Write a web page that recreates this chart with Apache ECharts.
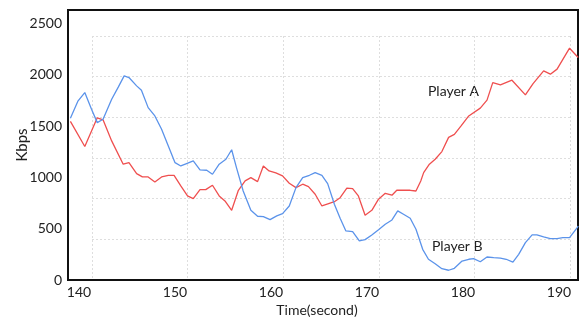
<!DOCTYPE html>
<html>
<head>
<meta charset="utf-8">
<script src="https://cdn.jsdelivr.net/npm/echarts@6/dist/echarts.min.js"></script>
<style>
  html, body { margin: 0; padding: 0; background: #fff; }
  #chart { width: 581px; height: 320px; }
</style>
</head>
<body>
<div id="chart"></div>
<script>
// Player A bitrate over time
const timeA = [139.1, 140.6, 141.9, 142.5, 143.4, 144.6, 145.2, 146.0, 146.6, 147.2, 147.9, 148.6, 149.3, 149.9,
  150.6, 151.3, 151.9, 152.6, 153.2, 153.9, 154.6, 155.2, 155.9, 156.6, 157.3, 157.9, 158.6, 159.2, 159.8,
  160.5, 161.2, 161.9, 162.6, 163.3, 163.9, 164.6, 165.3, 166.0, 166.6, 167.2, 167.9, 168.5, 169.1, 169.8,
  170.5, 171.2, 171.9, 172.6, 173.1, 174.5, 175.1, 175.6, 175.9, 176.5, 177.1, 177.8, 178.5, 179.1, 179.8,
  180.6, 181.8, 182.5, 183.1, 183.9, 185.1, 186.5, 187.3, 188.4, 189.1, 189.8, 191.1, 192.0];
const kbpsA = [1545, 1300, 1580, 1560, 1355, 1128, 1143, 1036, 1004, 1004, 955, 1004, 1020, 1020,
  916, 819, 792, 880, 880, 923, 819, 770, 679, 874, 965, 997, 958, 1111, 1062,
  1043, 1014, 943, 900, 933, 909, 835, 721, 744, 763, 802, 894, 890, 819, 631,
  679, 787, 845, 826, 874, 874, 867, 965, 1046, 1128, 1176, 1251, 1389, 1418, 1501,
  1598, 1674, 1752, 1923, 1901, 1946, 1803, 1913, 2037, 2005, 2054, 2258, 2167];

// Player B bitrate over time
const timeB = [139.1, 139.9, 140.6, 141.3, 141.9, 142.5, 143.4, 144.1, 144.7, 145.2, 146.0, 146.5, 147.2, 147.9,
  148.6, 149.3, 150.0, 150.6, 151.2, 151.9, 152.6, 153.3, 153.9, 154.6, 155.3, 155.9, 156.4, 157.1, 157.9,
  158.6, 159.2, 159.9, 160.6, 161.2, 161.9, 162.6, 163.3, 164.0, 164.6, 165.3, 165.9, 166.6, 167.2, 167.8,
  168.5, 169.2, 169.8, 170.5, 171.2, 171.9, 172.6, 173.2, 173.8, 174.5, 175.1, 175.8, 176.4, 177.1, 177.8,
  178.5, 179.1, 179.9, 180.6, 181.1, 181.8, 182.5, 183.2, 183.9, 184.5, 185.2, 185.8, 186.5, 187.2, 187.7,
  188.4, 189.1, 189.8, 190.4, 191.1, 191.9, 192.0];
const kbpsB = [1576, 1745, 1826, 1664, 1533, 1566, 1761, 1881, 1988, 1972, 1891, 1849, 1679, 1598,
  1469, 1306, 1143, 1111, 1134, 1160, 1072, 1069, 1030, 1128, 1176, 1269, 1095, 867, 679,
  621, 617, 588, 624, 646, 721, 900, 997, 1020, 1046, 1020, 939, 738, 601, 478,
  471, 380, 393, 439, 490, 543, 585, 673, 640, 601, 494, 299, 202, 159, 110,
  95, 114, 185, 202, 208, 178, 224, 217, 214, 202, 175, 250, 364, 439, 439,
  419, 403, 403, 412, 412, 510, 526];

const timeTicks = [140, 150, 160, 170, 180, 190];
const seriesNames = ['Player A', 'Player B'];

const pairs = (t, v) => t.map((x, i) => [x, v[i]]);
const font = 'Lato, "Open Sans", sans-serif';

const chart = echarts.init(document.getElementById('chart'), null, { renderer: 'canvas' });
chart.setOption({
  backgroundColor: '#ffffff',
  animation: false,
  grid: [
    { left: 68, right: 3, top: 10, bottom: 40, outerBoundsMode: 'none',
      show: true, borderColor: '#111', borderWidth: 2, backgroundColor: 'transparent' },
    // dotted background lattice
    { left: 92, right: 11, top: 36, bottom: 40, outerBoundsMode: 'none', show: false }
  ],
  xAxis: [
    {
      gridIndex: 0, type: 'value', min: 138.85, max: 191.98,
      axisLine: { show: true, lineStyle: { color: '#111', width: 2 } },
      axisTick: { show: false },
      splitLine: { show: false },
      axisLabel: { customValues: timeTicks, color: '#222', fontSize: 14, fontFamily: font, margin: 5 },
      name: 'Time(second)', nameLocation: 'middle', nameGap: 23, nameMoveOverlap: false,
      nameTextStyle: { color: '#222', fontSize: 14, fontFamily: font, padding: [0, 12, 0, 0] }
    },
    {
      gridIndex: 1, type: 'value', min: 0, max: 5, interval: 1,
      axisLine: { show: false }, axisTick: { show: false }, axisLabel: { show: false },
      splitLine: { show: true, lineStyle: { color: '#dedede', type: [2, 2], width: 1 } }
    }
  ],
  yAxis: [
    {
      gridIndex: 0, type: 'value', min: 0, max: 2630, interval: 500,
      axisLine: { show: true, lineStyle: { color: '#111', width: 2 } },
      axisTick: { show: false },
      splitLine: { show: false },
      axisLabel: { color: '#222', fontSize: 14, fontFamily: font, margin: 6, showMaxLabel: false,
        formatter: v => String(v) },
      name: 'Kbps', nameLocation: 'middle', nameGap: 38, nameRotate: 90, nameMoveOverlap: false,
      nameTextStyle: { color: '#222', fontSize: 15, fontFamily: font }
    },
    {
      gridIndex: 1, type: 'value', min: 0, max: 6, interval: 1,
      axisLine: { show: false }, axisTick: { show: false }, axisLabel: { show: false },
      splitLine: { show: true, lineStyle: { color: '#dedede', type: [2, 2], width: 1 } }
    }
  ],
  series: [
    {
      name: seriesNames[0], type: 'line', xAxisIndex: 0, yAxisIndex: 0,
      data: pairs(timeA, kbpsA), showSymbol: false, smooth: false,
      lineStyle: { color: '#ef4f4f', width: 1.3 }, z: 3
    },
    {
      name: seriesNames[1], type: 'line', xAxisIndex: 0, yAxisIndex: 0,
      data: pairs(timeB, kbpsB), showSymbol: false, smooth: false,
      lineStyle: { color: '#5b93ea', width: 1.3 }, z: 3
    }
  ],
  graphic: [
    { type: 'text', left: 428, top: 84, style: { text: seriesNames[0], fill: '#222', font: '14px ' + font } },
    { type: 'text', left: 432, top: 239, style: { text: seriesNames[1], fill: '#222', font: '14px ' + font } }
  ]
});
</script>
</body>
</html>
